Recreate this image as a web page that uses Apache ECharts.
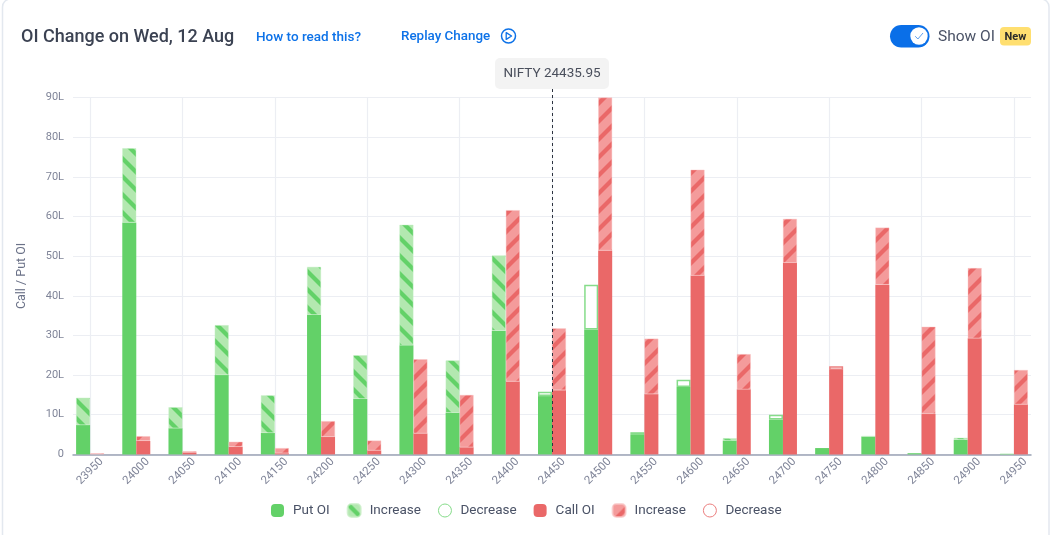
<!DOCTYPE html>
<html><head><meta charset="utf-8">
<style>html,body{margin:0;padding:0;background:#fff}#c{width:1051px;height:535px}</style>
<script src="https://cdn.jsdelivr.net/npm/echarts@6/dist/echarts.min.js"></script>
</head><body><div id="c"></div>
<script>
const strikes = ['23950','24000','24050','24100','24150','24200','24250','24300','24350','24400','24450','24500','24550','24600','24650','24700','24750','24800','24850','24900','24950'];
const putBase  = [7.4,58.5,6.6,20,5.4,35.2,14,27.5,10.5,31.2,14.7,31.5,4.9,17,3.5,8.8,1.6,4.5,0.3,3.7,0.1];
const putInc   = [6.9,18.7,5.3,12.6,9.5,12.1,11,30.4,13.2,19,null,null,null,null,0.6,null,null,0.1,null,0.5,0.1];
const putDec   = [null,null,null,null,null,null,null,null,null,null,1.1,11.3,0.7,1.8,null,1.2,null,null,null,null,null];
const callBase = [0,3.4,0.5,1.9,0.3,4.4,1,5.3,1.8,18.4,16.2,51.4,15.2,45.1,16.4,48.3,21.3,42.8,10.2,29.3,12.6];
const callInc  = [0.3,1.2,0.3,1.3,1.3,4,2.5,18.7,13.2,43.2,15.6,38.6,14,26.7,8.9,11.1,null,14.4,22,17.7,8.7];
const callDec  = [null,null,null,null,null,null,null,null,null,null,null,null,null,null,null,null,0.9,null,null,null,null];
const legendNames = ['Put OI','Put Increase','Put Decrease','Call OI','Call Increase','Call Decrease'];
const spotStrike = '24450';
const spotLabel = 'NIFTY 24435.95';

const GREEN='#63d168', GREEN_L='#b3e8b0', RED='#ea6868', RED_L='#f49b9b';
const FONT='Roboto';
function stripes(bg,fg,down){
  const P=18,c=document.createElement('canvas');c.width=c.height=P;
  const g=c.getContext('2d');g.fillStyle=bg;g.fillRect(0,0,P,P);
  g.strokeStyle=fg;g.lineWidth=4.2;
  for(let k=-1;k<=1;k++){
    g.beginPath();
    if(down){g.moveTo(k*P-2,-2);g.lineTo(k*P+P+2,P+2);}
    else{g.moveTo(k*P-2,P+2);g.lineTo(k*P+P+2,-2);}
    g.stroke();
  }
  return {image:c,repeat:'repeat'};
}
function bar(name,stack,data,itemStyle){
  return {name,type:'bar',stack,data,xAxisIndex:1,yAxisIndex:1,barWidth:14,barGap:0,animation:false,silent:true,itemStyle};
}
const series=[
  bar(legendNames[0],'put',putBase,{color:GREEN}),
  bar(legendNames[1],'put',putInc,{color:stripes(GREEN_L,GREEN,true),borderColor:'rgba(196,237,194,0.7)',borderWidth:0.6}),
  bar(legendNames[2],'put',putDec,{color:'#fff',borderColor:'#86dc8a',borderWidth:1.5}),
  bar(legendNames[3],'call',callBase,{color:RED}),
  bar(legendNames[4],'call',callInc,{color:stripes(RED_L,RED,false),borderColor:'rgba(249,198,198,0.7)',borderWidth:0.6}),
  bar(legendNames[5],'call',callDec,{color:'#fff',borderColor:'#ec7f7f',borderWidth:1.5}),
  {name:'spot',type:'line',xAxisIndex:1,yAxisIndex:1,data:[],silent:true,animation:false,showSymbol:false,
   markLine:{silent:true,animation:false,symbol:'none',lineStyle:{color:'#2d3340',type:[3,3],width:1},label:{show:false},
     data:[[{xAxis:spotStrike,y:89},{xAxis:spotStrike,y:454}]]}}
];
const text=(x,y,t,font,fill,align)=>({type:'text',x,y,silent:true,style:{text:t,font,fill,align:align||'left',verticalAlign:'middle'}});
const squircle='path://M4,0H9A4,4 0 0 1 13,4V9A4,4 0 0 1 9,13H4A4,4 0 0 1 0,9V4A4,4 0 0 1 4,0Z';
const option={
  backgroundColor:'#fff',
  textStyle:{fontFamily:FONT},
  legend:{
    left:266,top:498,itemWidth:13,itemHeight:13,itemGap:17,selectedMode:false,
    data:legendNames.map((n,i)=>({name:n,icon:(i%3===2)?'circle':squircle,itemStyle:(i%3===2)?{borderWidth:1}:{}})),
    formatter:n=>n.replace(/^(Put|Call) (Increase|Decrease)$/,'$2'),
    textStyle:{color:'#4a5266',fontSize:13.5,fontFamily:FONT,padding:[0,0,0,4]}
  },
  grid:[
    {left:73,right:20,top:97.5,bottom:80.6},
    {left:67,right:14,top:97.5,bottom:80.6}
  ],
  xAxis:[
    {gridIndex:0,type:'value',min:0,max:1,axisLabel:{show:false},axisTick:{show:false},splitLine:{show:false},
     axisLine:{show:true,onZero:false,lineStyle:{color:'#9aa3b5',width:1.5}}},
    {gridIndex:1,type:'category',data:strikes,axisLine:{show:false},axisTick:{show:false},
     splitLine:{show:true,interval:1,alignWithLabel:true,lineStyle:{color:'#eceef3',width:1.2}},
     axisLabel:{interval:0,rotate:45,align:'center',verticalAlign:'middle',margin:17,color:'#7f8498',fontSize:11.5,fontFamily:FONT}}
  ],
  yAxis:[
    {gridIndex:0,type:'value',min:0,max:90,interval:10,name:'Call / Put OI',nameLocation:'middle',nameGap:45,
     nameTextStyle:{color:'#6b7288',fontSize:12.5,fontFamily:FONT},
     axisLine:{show:false},axisTick:{show:false},
     axisLabel:{margin:9,color:'#7f8498',fontSize:11,fontFamily:FONT,padding:[5,0,0,0],formatter:v=>v?v+'L':'0'},
     splitLine:{show:true,lineStyle:{color:'#eceef3',width:1.2}}},
    {gridIndex:1,type:'value',min:0,max:90,interval:10,show:false}
  ],
  graphic:{elements:[
    {type:'rect',z:-10,silent:true,shape:{x:2.5,y:-1,width:1046.5,height:560,r:8},style:{fill:'#fff',stroke:'#e3e8ef',lineWidth:1.5}},
    text(21,37,'OI Change on Wed, 12 Aug','500 18px '+FONT,'#3b4252'),
    text(256,37.5,'How to read this?','500 13.5px '+FONT,'#0d72e8'),
    text(401,36.5,'Replay Change','500 13.4px '+FONT,'#0d72e8'),
    {type:'circle',silent:true,shape:{cx:508.5,cy:36,r:7},style:{fill:'#fff',stroke:'#0d72e8',lineWidth:1.5}},
    {type:'polygon',silent:true,shape:{points:[[506.2,32.6],[506.2,39.4],[511.6,36]]},style:{fill:'#fff',stroke:'#0d72e8',lineWidth:1.3,lineJoin:'round'}},
    {type:'rect',z:5,silent:true,shape:{x:495,y:58,width:114,height:31,r:5},style:{fill:'#f3f3f3'}},
    Object.assign(text(552,74,spotLabel,'13.5px '+FONT,'#4a4f5c','center'),{z:6}),
    {type:'rect',silent:true,shape:{x:890,y:25,width:39.5,height:22.5,r:11.25},style:{fill:'#0a6fe8'}},
    {type:'circle',silent:true,shape:{cx:919,cy:36,r:8.7},style:{fill:'#fff'}},
    {type:'polyline',silent:true,shape:{points:[[915.2,36.2],[917.9,39],[923,33]]},style:{fill:'none',stroke:'#5f9fee',lineWidth:1}},
    text(938,37,'Show OI','15.5px '+FONT,'#4a5266'),
    {type:'rect',silent:true,shape:{x:1000,y:27,width:31,height:18.5,r:4},style:{fill:'#ffdf70'}},
    text(1015.5,37,'New','700 11px '+FONT,'#2b2b2b','center')
  ]},
  series
};
echarts.init(document.getElementById('c'),null,{renderer:'canvas'}).setOption(option);
</script></body></html>
